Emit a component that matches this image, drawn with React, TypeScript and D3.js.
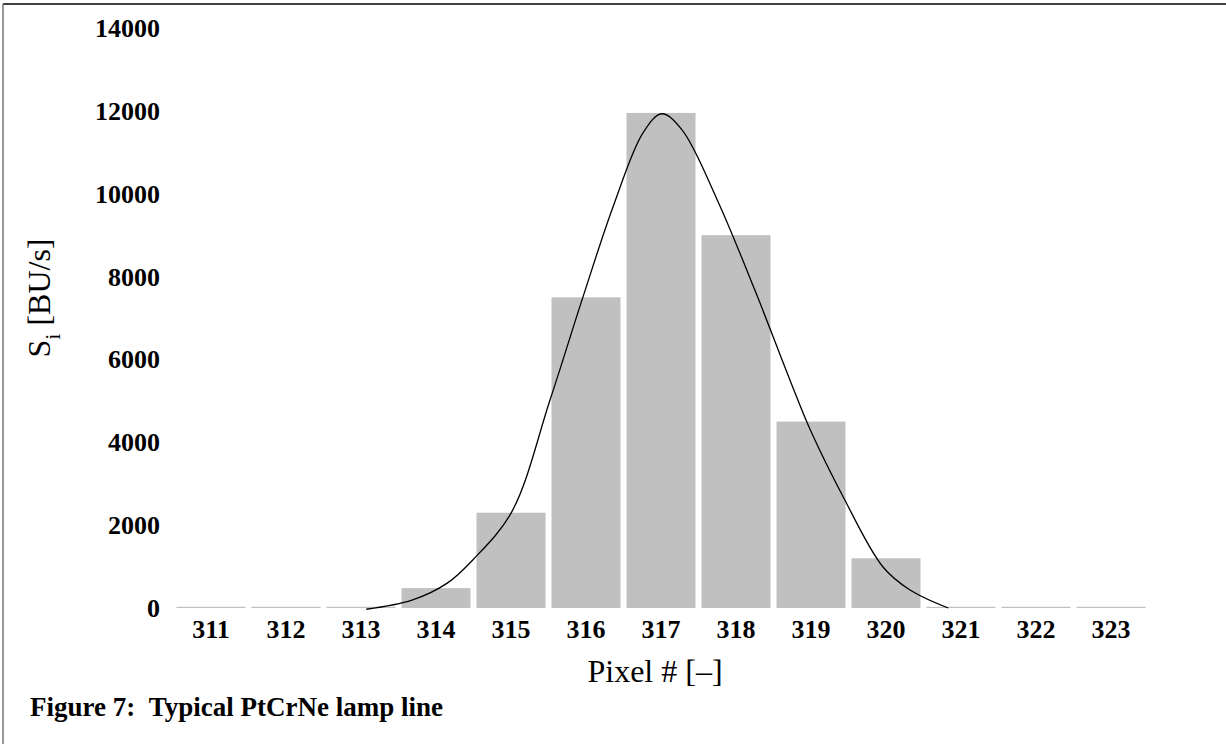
import * as d3 from "d3";

// pixel numbers on the detector and the measured signal per pixel [BU/s]
const pixels = ["311", "312", "313", "314", "315", "316", "317", "318", "319", "320", "321", "322", "323"];
const signal = [0, 0, 0, 480, 2300, 7500, 11950, 9000, 4500, 1200, 0, 0, 0];

// fitted line profile (pixel position, value)
const fitPixel = [313.07, 313.68, 314.15, 314.49, 315.01, 315.52, 315.96, 316.36, 316.76, 317.01, 317.28, 317.75, 318.25, 318.72, 318.99, 319.43, 319.96, 320.32, 320.83];
const fitValue = [-30, 190, 600, 1160, 2320, 5020, 7510, 9680, 11470, 11930, 11540, 9850, 7680, 5500, 4300, 2680, 990, 435, 0];

const yTicks = [0, 2000, 4000, 6000, 8000, 10000, 12000, 14000];

const W = 1226;
const H = 744;
const serif = "'Liberation Serif', 'Times New Roman', serif";

export default function App() {
  const x = d3.scaleBand<string>().domain(pixels).range([173.5, 1148.5]).paddingInner(0.08).paddingOuter(0.04);
  const y = d3.scaleLinear([0, 14000], [608, 28]);

  // continuous position for the fit curve, lined up with band centres
  const step = x.step();
  const c0 = x("311")! + x.bandwidth() / 2;
  const xFit = d3.scaleLinear([311, 312], [c0, c0 + step]);

  const line = d3.line<number>()
    .x((_, i) => xFit(fitPixel[i]))
    .y((d) => y(d))
    .curve(d3.curveCatmullRom.alpha(0.5));

  return (
    <div style={{ position: "fixed", left: 0, top: 0 }}>
      <svg width={W} height={H} style={{ display: "block", background: "#fff" }}>
        {/* frame */}
        <line x1={3} x2={W} y1={4} y2={4} stroke="#000" strokeWidth={1.5} />
        <line x1={3} x2={3} y1={4} y2={H} stroke="#777" strokeWidth={1.5} />

        {/* bars */}
        <g fill="#c0c0c0">
          {pixels.map((p, i) => {
            const h = Math.max(y(0) - y(signal[i]), 1.2);
            return <rect key={p} x={x(p)} y={y(0) - h} width={x.bandwidth()} height={h} />;
          })}
        </g>

        {/* fit */}
        <path d={line(fitValue) ?? undefined} fill="none" stroke="#000" strokeWidth={1.3} />

        {/* y tick labels */}
        <g fontFamily={serif} fontWeight="bold" fontSize={26} textAnchor="end">
          {yTicks.map((t) => (
            <text key={t} x={160} y={y(t) + 9}>{t}</text>
          ))}
        </g>

        {/* x tick labels */}
        <g fontFamily={serif} fontWeight="bold" fontSize={26} textAnchor="middle">
          {pixels.map((p) => (
            <text key={p} x={x(p)! + x.bandwidth() / 2} y={638}>{p}</text>
          ))}
        </g>

        {/* axis titles */}
        <text x={655} y={682} fontFamily={serif} fontSize={32} textAnchor="middle">Pixel # [–]</text>
        <text transform="translate(50,298) rotate(-90)" fontFamily={serif} fontSize={32} textAnchor="middle">
          S<tspan fontSize={22} dy={10}>i</tspan><tspan dy={-10}> [BU/s]</tspan>
        </text>

        {/* caption */}
        <text x={30} y={716} fontFamily={serif} fontWeight="bold" fontSize={27}>
          Figure 7:{"\u00a0\u00a0"}Typical PtCrNe lamp line
        </text>
      </svg>
    </div>
  );
}
